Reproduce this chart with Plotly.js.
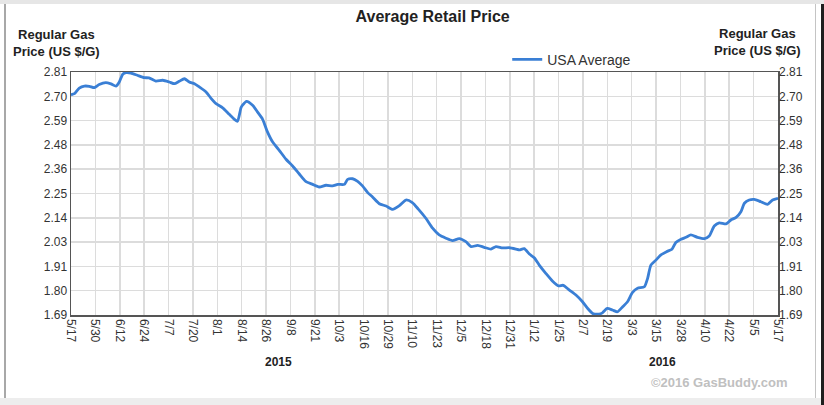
<!DOCTYPE html>
<html>
<head>
<meta charset="utf-8">
<script src="https://cdn.plot.ly/plotly-3.0.1.min.js"></script>
<style>
  html, body { margin: 0; padding: 0; background: #ffffff; }
  #wrap { position: relative; width: 824px; height: 405px; overflow: hidden; }
  #chart { position: absolute; left: 0; top: 0; width: 824px; height: 405px; }
  .frame { position: absolute; pointer-events: none; }
</style>
</head>
<body>
<div id="wrap">
  <div id="chart"></div>
  <div class="frame" style="left:0;top:0;width:824px;height:4px;background:#e6e6e6;"></div>
  <div class="frame" style="left:0;top:398px;width:824px;height:7px;background:#ededed;"></div>
  <div class="frame" style="left:4px;top:4px;width:2px;height:394px;background:#a8a8a8;"></div>
  <div class="frame" style="left:815px;top:4px;width:1px;height:394px;background:#c4c4c4;"></div>
  <div class="frame" style="left:821px;top:4px;width:3px;height:401px;background:#1e1e1e;"></div>
</div>
<script>
// Days since 2015-05-17
const days = [0, 1.8, 4.3, 6.9, 9.5, 12.1, 14.6, 18.0, 20.7, 23.3, 25.0, 26.8, 28.5, 31.0, 34.3, 37.9, 40.4, 43.9, 47.5, 50.9,
  53.5, 56.0, 58.7, 61.2, 63.9, 66.4, 69.9, 72.4, 75.1, 78.5, 81.9, 84.6, 86.2, 88.0, 88.8, 90.9, 94.0, 96.5, 99.2, 101.7,
  104.4, 107.8, 111.3, 114.7, 118.1, 121.5, 125.1, 128.5, 132.0, 135.4, 138.1, 141.5, 143.2, 145.8, 148.4, 150.9, 153.6, 156.1, 159.6, 163.1,
  166.5, 170.0, 173.4, 176.7, 179.8, 183.7, 187.2, 190.6, 194.1, 197.5, 201.0, 204.4, 207.1, 210.5, 213.9, 217.4, 220.0, 223.4, 226.9, 230.3,
  232.1, 234.6, 237.3, 239.8, 242.4, 245.8, 249.2, 252.4, 254.8, 258.0, 261.4, 264.8, 267.5, 270.1, 273.3, 275.1, 277.6, 280.3, 282.9, 285.6,
  288.1, 290.6, 293.3, 296.8, 298.5, 300.2, 302.9, 305.4, 308.3, 311.1, 313.1, 315.8, 318.4, 320.9, 324.3, 327.9, 330.4, 333.0, 335.6, 339.1,
  341.6, 344.3, 346.8, 348.6, 351.1, 353.7, 357.1, 360.6, 363.2, 366];
const usaAverage = [2.705, 2.71, 2.736, 2.745, 2.744, 2.738, 2.752, 2.761, 2.755, 2.745, 2.764, 2.80, 2.807, 2.805, 2.795, 2.784, 2.783, 2.768, 2.772, 2.764,
  2.756, 2.767, 2.779, 2.764, 2.756, 2.741, 2.718, 2.69, 2.664, 2.645, 2.615, 2.592, 2.583, 2.645, 2.657, 2.675, 2.657, 2.626, 2.592, 2.534,
  2.487, 2.449, 2.408, 2.377, 2.341, 2.306, 2.292, 2.28, 2.288, 2.285, 2.292, 2.292, 2.315, 2.318, 2.306, 2.285, 2.254, 2.234, 2.203, 2.192,
  2.177, 2.194, 2.22, 2.208, 2.178, 2.136, 2.09, 2.059, 2.044, 2.033, 2.042, 2.028, 2.005, 2.011, 2.002, 1.994, 2.005, 1.999, 2.0, 1.994,
  1.99, 1.996, 1.971, 1.954, 1.92, 1.882, 1.847, 1.824, 1.827, 1.805, 1.782, 1.751, 1.72, 1.697, 1.694, 1.70, 1.72, 1.713, 1.705, 1.728,
  1.751, 1.793, 1.813, 1.82, 1.859, 1.92, 1.944, 1.967, 1.982, 1.993, 2.024, 2.039, 2.048, 2.059, 2.048, 2.042, 2.054, 2.1, 2.115, 2.11,
  2.128, 2.14, 2.166, 2.205, 2.22, 2.223, 2.212, 2.2, 2.22, 2.228];

const xTickLabels = ['5/17', '5/30', '6/12', '6/24', '7/7', '7/20', '8/1', '8/14', '8/26', '9/8', '9/21', '10/3', '10/16', '10/29', '11/10',
  '11/23', '12/5', '12/18', '12/31', '1/12', '1/25', '2/7', '2/19', '3/3', '3/15', '3/28', '4/10', '4/22', '5/5', '5/17'];
const yTickLabels = ['1.69', '1.80', '1.91', '2.03', '2.14', '2.25', '2.36', '2.48', '2.59', '2.70', '2.81'];
const totalDays = 366;
const yMin = 1.69, yMax = 2.81;

const xTickVals = xTickLabels.map((_, i) => i * totalDays / (xTickLabels.length - 1));
const yTickVals = yTickLabels.map((_, i) => yMin + i * (yMax - yMin) / (yTickLabels.length - 1));

const FONT = 'Arial, "Liberation Sans", sans-serif';
const lineColor = '#3a7fd5';

const traces = [
  {
    x: days, y: usaAverage, type: 'scatter', mode: 'lines', name: 'USA Average',
    line: { color: lineColor, width: 2.8, shape: 'spline', smoothing: 0.6 },
    hoverinfo: 'skip'
  },
  {
    x: days, y: usaAverage, type: 'scatter', mode: 'lines', yaxis: 'y2',
    line: { color: 'rgba(0,0,0,0)', width: 0 }, showlegend: false, hoverinfo: 'skip'
  }
];

const yAxisCommon = {
  range: [yMin, yMax], tickmode: 'array', tickvals: yTickVals, ticktext: yTickLabels,
  tickfont: { family: FONT, size: 12, color: '#333333' }, ticks: '', fixedrange: true
};

const layout = {
  width: 824, height: 405,
  margin: { l: 71, r: 46, t: 72, b: 90, pad: 0 },
  paper_bgcolor: 'rgba(0,0,0,0)', plot_bgcolor: '#ffffff',
  font: { family: FONT, color: '#333333', size: 12 },
  title: {
    text: '<b>Average Retail Price</b>',
    font: { family: FONT, size: 16, color: '#222222' },
    x: 0.525, xanchor: 'center', y: 0.96, yanchor: 'middle'
  },
  showlegend: true,
  legend: {
    orientation: 'h', x: 0.617, xanchor: 'left', y: 1.05, yanchor: 'middle',
    font: { family: FONT, size: 14, color: '#333333' }, bgcolor: 'rgba(0,0,0,0)'
  },
  xaxis: {
    range: [0, totalDays], tickmode: 'array', tickvals: xTickVals, ticktext: xTickLabels,
    tickangle: 90, tickfont: { family: FONT, size: 12, color: '#333333' },
    showgrid: true, gridcolor: '#dcdcdc', gridwidth: 1.5,
    showline: true, linecolor: '#555555', linewidth: 1.5, mirror: true,
    ticks: '', zeroline: false, fixedrange: true
  },
  yaxis: Object.assign({}, yAxisCommon, {
    side: 'left', showgrid: true, gridcolor: '#dcdcdc', gridwidth: 1.5,
    showline: true, linecolor: '#555555', linewidth: 1.5, mirror: true, zeroline: false
  }),
  yaxis2: Object.assign({}, yAxisCommon, {
    side: 'right', overlaying: 'y', showgrid: false, showline: false, zeroline: false
  }),
  annotations: [
    { text: '<b>Regular Gas<br>Price (US $/G)</b>', xref: 'paper', yref: 'paper',
      x: (56 - 71) / 707, y: (315 - 43) / 243, xanchor: 'center', yanchor: 'middle',
      showarrow: false, align: 'center', font: { family: FONT, size: 13, color: '#222222' } },
    { text: '<b>Regular Gas<br>Price (US $/G)</b>', xref: 'paper', yref: 'paper',
      x: (757 - 71) / 707, y: (315 - 42) / 243, xanchor: 'center', yanchor: 'middle',
      showarrow: false, align: 'center', font: { family: FONT, size: 13, color: '#222222' } },
    { text: '<b>2015</b>', xref: 'paper', yref: 'paper',
      x: (278 - 71) / 707, y: (315 - 362) / 243, xanchor: 'center', yanchor: 'middle',
      showarrow: false, font: { family: FONT, size: 12, color: '#222222' } },
    { text: '<b>2016</b>', xref: 'paper', yref: 'paper',
      x: (662 - 71) / 707, y: (315 - 362) / 243, xanchor: 'center', yanchor: 'middle',
      showarrow: false, font: { family: FONT, size: 12, color: '#222222' } },
    { text: '<b>©2016 GasBuddy.com</b>', xref: 'paper', yref: 'paper',
      x: (790 - 71) / 707, y: (315 - 382) / 243, xanchor: 'right', yanchor: 'middle',
      showarrow: false, font: { family: FONT, size: 13, color: '#c0c0c0' } }
  ]
};

Plotly.newPlot('chart', traces, layout, { staticPlot: true, displayModeBar: false });
</script>
</body>
</html>
